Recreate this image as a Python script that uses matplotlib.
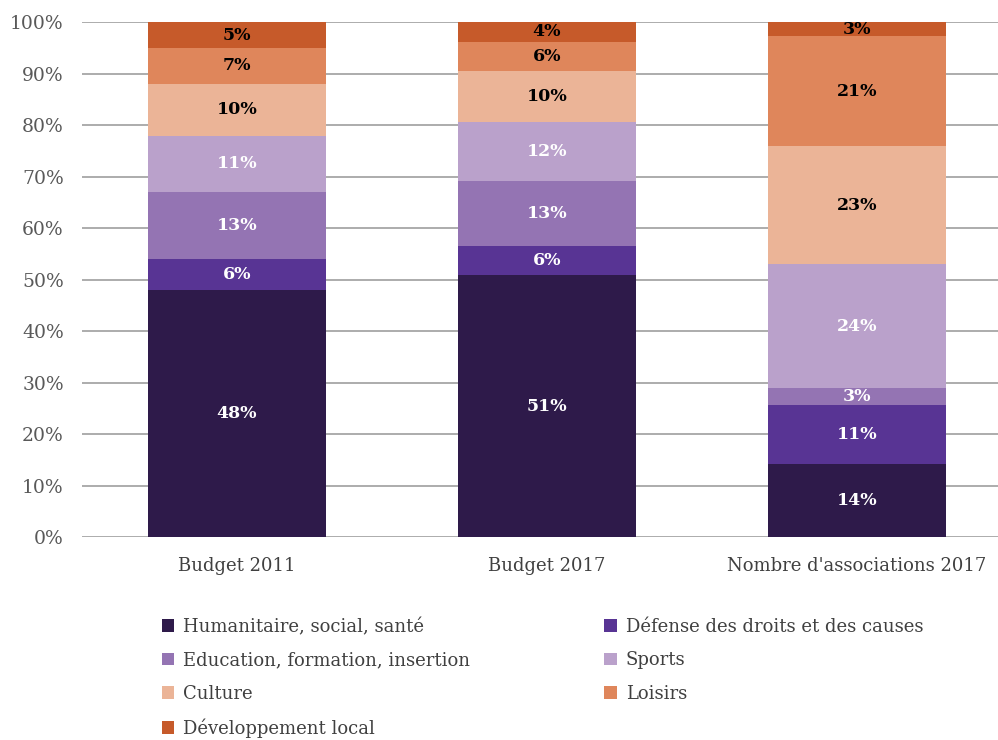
import matplotlib
matplotlib.use("Agg")
import matplotlib.pyplot as plt
from matplotlib.patches import Patch

plt.rcParams["font.family"] = ["DejaVu Serif"]

# 
# Data
# 
groups = ["Budget 2011", "Budget 2017", "Nombre d'associations 2017"]

categories = [
    "Humanitaire, social, santé",
    "Défense des droits et des causes",
    "Education, formation, insertion",
    "Sports",
    "Culture",
    "Loisirs",
    "Développement local",
]

humanitaire = [48.0, 50.9, 14.2]
defense = [6.0, 5.6, 11.4]
education = [13.0, 12.6, 3.3]
sports = [11.0, 11.6, 24.1]
culture = [10.0, 9.9, 22.9]
loisirs = [7.0, 5.6, 21.4]
developpement = [5.0, 3.8, 2.7]

series = [humanitaire, defense, education, sports, culture, loisirs, developpement]

colors = ["#2E1A4A", "#583494", "#9474B3", "#BAA1CB", "#EBB497", "#DF865B", "#C65A2A"]
label_colors = ["white", "white", "white", "white", "black", "black", "black"]

# 
# Figure
# 
fig = plt.figure(figsize=(9.98, 7.40), dpi=100)
ax = fig.add_axes([0.082, 0.274, 0.932, 0.696])

x = list(range(len(groups)))
bottoms = [0.0] * len(groups)

for values, color, text_color in zip(series, colors, label_colors):

    bars = ax.bar(x, values, bottom=bottoms, width=0.574, color=color, zorder=3)

    for bar, value, base in zip(bars, values, bottoms):
        ax.text(
            bar.get_x() + bar.get_width() / 2,
            base + value / 2,
            f"{value:.0f}%",
            ha="center",
            va="center",
            fontsize=12.5,
            fontweight="bold",
            color=text_color,
            zorder=4,
        )

    bottoms = [b + v for b, v in zip(bottoms, values)]

# 
# Axes
# 
ax.set_xlim(-0.5, 2.5)
ax.set_ylim(0, 100)
ax.set_yticks(range(0, 101, 10))
ax.set_yticklabels([f"{t}%" for t in range(0, 101, 10)], fontsize=13.5, color="#595959")
ax.set_xticks(x)
ax.set_xticklabels(groups, fontsize=13, color="#404040")
ax.tick_params(axis="both", length=0)
ax.tick_params(axis="y", pad=13)
ax.tick_params(axis="x", pad=14)

ax.yaxis.grid(True, color="#A6A6A6", linewidth=1.3, zorder=0)
for spine in ax.spines.values():
    spine.set_visible(False)

# 
# Legend (row-major order, two columns)
# 
handles = [Patch(facecolor=c, edgecolor="none") for c in colors]
order = [0, 2, 4, 6, 1, 3, 5]

fig.legend(
    [handles[i] for i in order],
    [categories[i] for i in order],
    loc="upper left",
    bbox_to_anchor=(0.162, 0.165),
    ncol=2,
    frameon=False,
    fontsize=13,
    labelcolor="#404040",
    handlelength=0.7,
    handleheight=0.7,
    handletextpad=0.5,
    labelspacing=0.85,
    columnspacing=7.4,
    borderaxespad=0,
    borderpad=0,
)

fig.savefig("out.png", dpi=100)
